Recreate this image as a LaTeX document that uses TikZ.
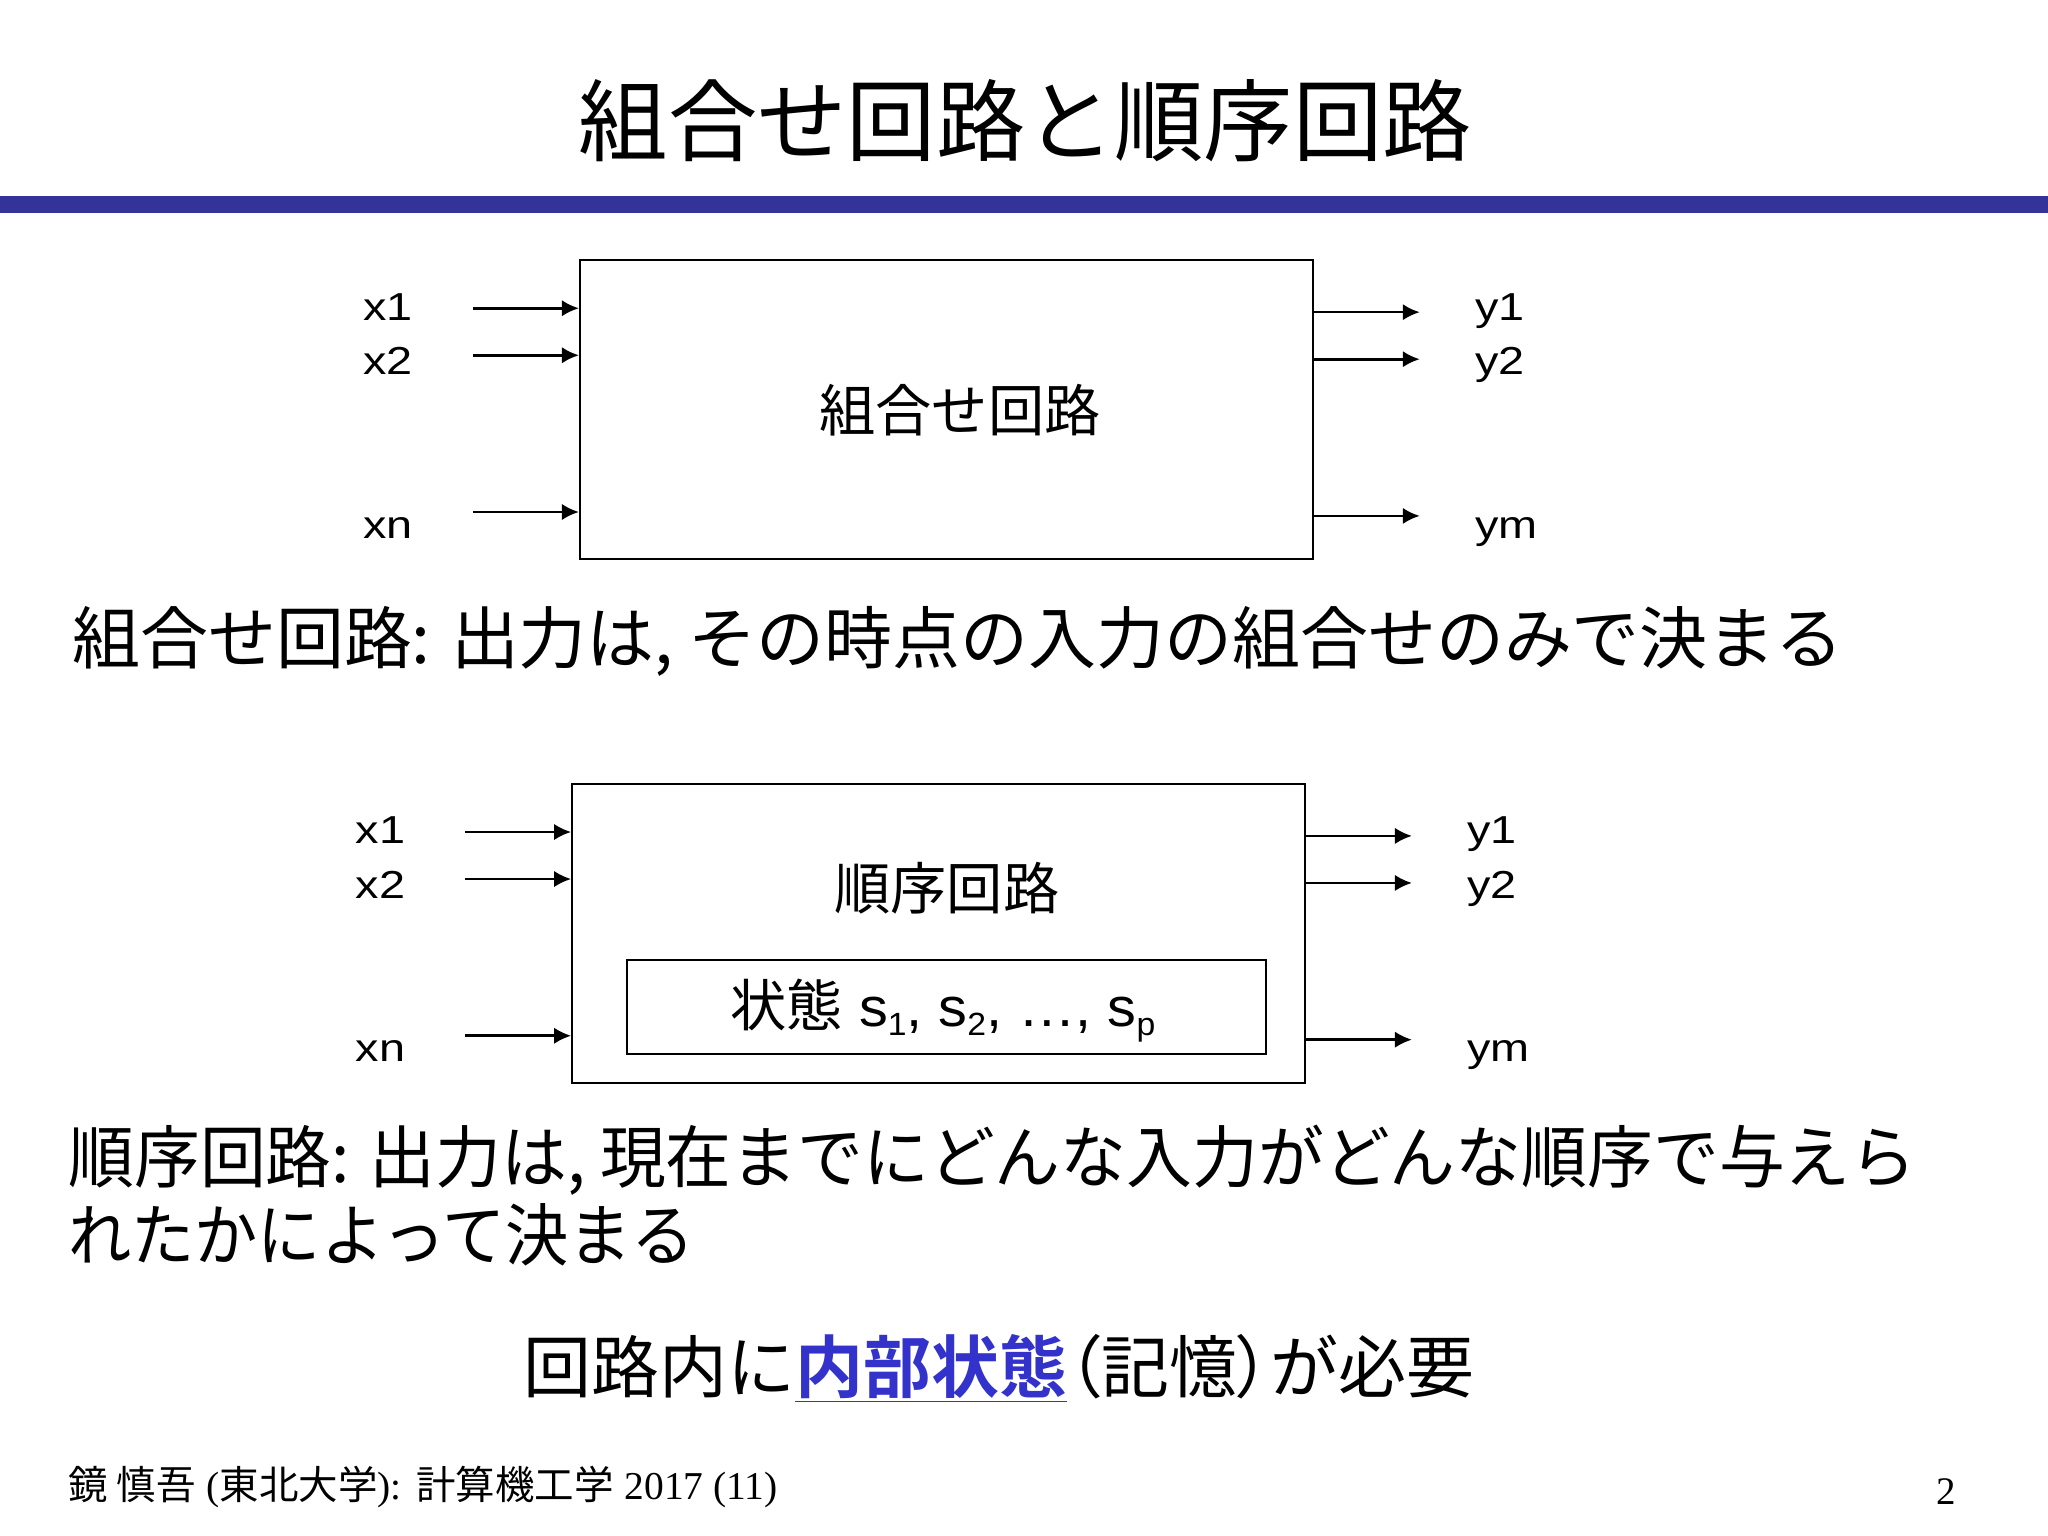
\documentclass[tikz,border=0pt]{standalone}
\usepackage{fontspec}
\usepackage{graphicx}
\usetikzlibrary{arrows.meta,fit}
\setmainfont{Liberation Sans}
\newfontfamily\cjk[BoldFont={* Bold}]{Noto Sans CJK JP}
\newfontfamily\cjkp[RawFeature=+palt]{Noto Sans CJK JP}
\newfontfamily\arialx[FakeStretch=1.2]{Liberation Sans}
\newfontfamily\arialy[FakeStretch=1.05]{Liberation Sans}
\newfontfamily\timesf{Liberation Serif}
\definecolor{barblue}{RGB}{51,51,153}
\definecolor{textblue}{RGB}{51,51,204}
\newcommand\sbs[1]{\raisebox{-0.16em}{\fontsize{14pt}{14pt}\selectfont #1}}
\tikzset{
  box/.style={draw, line width=0.85pt, inner sep=0pt},
  sig/.style={line width=1.15pt, -{Latex[length=0.26cm, width=0.25cm]}},
  lab/.style={anchor=base west, inner sep=0pt, font=\arialx\fontsize{17pt}{20pt}\selectfont},
  title/.style={anchor=base, inner sep=0pt, font=\cjk\fontsize{38.9pt}{44pt}\selectfont},
  blabel/.style={anchor=base, inner sep=0pt, font=\cjk\fontsize{24.5pt}{28pt}\selectfont},
  sent/.style={anchor=base west, inner sep=0pt, font=\cjk\fontsize{29.6pt}{34pt}\selectfont},
}
\begin{document}
\begin{tikzpicture}[x=0.02cm, y=-0.02cm]
\useasboundingbox (0,0) rectangle (1568,1176);
\fill[white] (0,0) rectangle (1568,1176);
% title and bar
\node[title] (ttl) at (785,118) {組合せ回路と順序回路};
\fill[barblue] (0,150) rectangle (1568,163);

% ---- combinational circuit ----
\node[box, fit={(444,199) (1005,428)}] (c1) {};
\node[blabel] (c1t) at (735,330) {組合せ回路};
\coordinate (a1) at (362,236);
\coordinate (a2) at (362,272);
\coordinate (an) at (362,392);
\draw[sig] (a1) -- (a1 -| c1.west);
\draw[sig] (a2) -- (a2 -| c1.west);
\draw[sig] (an) -- (an -| c1.west);
\coordinate (b1) at (1087,239);
\coordinate (b2) at (1087,275);
\coordinate (bm) at (1087,395);
\draw[sig] (b1 -| c1.east) -- (b1);
\draw[sig] (b2 -| c1.east) -- (b2);
\draw[sig] (bm -| c1.east) -- (bm);
\node[lab] (lx1) at (278,245) {x1};
\node[lab] (lx2) at (278,287) {x2};
\node[lab] (lxn) at (278,412) {xn};
\node[lab] (ly1) at (1129,245) {y1};
\node[lab] (ly2) at (1129,287) {y2};
\node[lab] (lym) at (1129,412) {ym};

\node[sent] (s1) at (55,508) {組合せ回路: 出力は, その時点の入力の組合せのみで決まる};

% ---- sequential circuit ----
\node[box, fit={(438,600) (999,829)}] (c2) {};
\node[blabel] (c2t) at (725,696) {順序回路};
\node[box, fit={(480,735) (969,807)}] (st) {};
\node[anchor=base, inner sep=0pt] (stt) at (722,786) {{\cjk\fontsize{24.5pt}{28pt}\selectfont 状態}\arialy\fontsize{23.9pt}{28pt}\selectfont{} s\sbs{1}, s\sbs{2}, …, s\sbs{p}};
\coordinate (d1) at (356,637);
\coordinate (d2) at (356,673);
\coordinate (dn) at (356,793);
\draw[sig] (d1) -- (d1 -| c2.west);
\draw[sig] (d2) -- (d2 -| c2.west);
\draw[sig] (dn) -- (dn -| c2.west);
\coordinate (e1) at (1081,640);
\coordinate (e2) at (1081,676);
\coordinate (em) at (1081,796);
\draw[sig] (e1 -| c2.east) -- (e1);
\draw[sig] (e2 -| c2.east) -- (e2);
\draw[sig] (em -| c2.east) -- (em);
\node[lab] (mx1) at (272,646) {x1};
\node[lab] (mx2) at (272,688) {x2};
\node[lab] (mxn) at (272,813) {xn};
\node[lab] (my1) at (1123,646) {y1};
\node[lab] (my2) at (1123,688) {y2};
\node[lab] (mym) at (1123,813) {ym};

\node[sent] (s2a) at (52,905) {\scalebox{0.969}[1]{順序回路: 出力は, 現在までにどんな入力がどんな順序で与えら}};
\node[sent] (s2b) at (52,965) {\scalebox{0.93}[1]{れたかによって決まる}};

\node[sent, anchor=base] (concl) at (765,1066) {回路内に\textcolor{textblue}{\underline{\bfseries 内部状態}}{\cjkp （}記憶{\cjkp ）}が必要};

% footer
\node[anchor=base west, inner sep=0pt] (foot) at (52,1148) {\fontsize{17.2pt}{20pt}\selectfont{\cjk 鏡 慎吾} {\timesf (}{\cjk 東北大学}{\timesf ):} {\cjk 計算機工学} {\timesf 2017 (11)}};
\node[anchor=base, inner sep=0pt, font=\timesf\fontsize{17pt}{20pt}\selectfont] (pg) at (1490,1152) {2};
\end{tikzpicture}
\end{document}
